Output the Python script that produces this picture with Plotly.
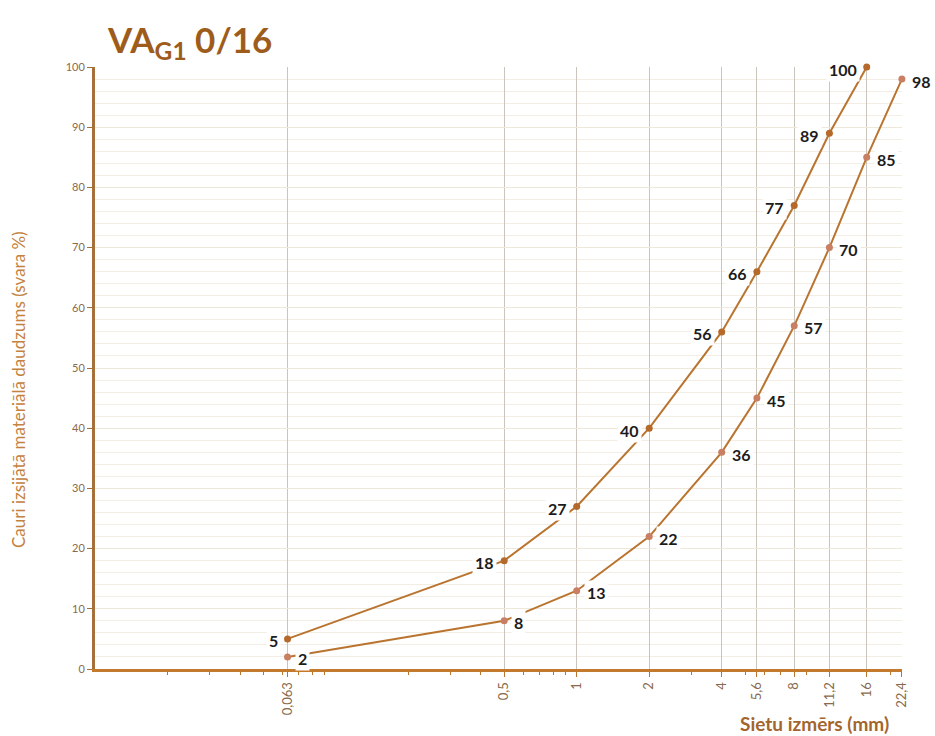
import math
import plotly.graph_objects as go

# Sieve sizes (mm) and passing percentages for the two grading limits
sieve_upper = [0.063, 0.5, 1, 2, 4, 5.6, 8, 11.2, 16]
pass_upper = [5, 18, 27, 40, 56, 66, 77, 89, 100]

sieve_lower = [0.063, 0.5, 1, 2, 4, 5.6, 8, 11.2, 16, 22.4]
pass_lower = [2, 8, 13, 22, 36, 45, 57, 70, 85, 98]

tick_vals = [0.063, 0.5, 1, 2, 4, 5.6, 8, 11.2, 16, 22.4]
tick_text = ["0,063", "0,5", "1", "2", "4", "5,6", "8", "11,2", "16", "22,4"]

LINE = "#B9742F"
FONT = "Lato"

fig = go.Figure()
fig.add_trace(go.Scatter(
    x=sieve_upper, y=pass_upper, mode="lines+markers",
    line=dict(color=LINE, width=2),
    marker=dict(color="#B5692A", size=7), cliponaxis=False,
    showlegend=False, hoverinfo="skip"))
fig.add_trace(go.Scatter(
    x=sieve_lower, y=pass_lower, mode="lines+markers",
    line=dict(color=LINE, width=2),
    marker=dict(color="#C97F63", size=7), cliponaxis=False,
    showlegend=False, hoverinfo="skip"))

label_font = dict(family=FONT, size=16, color="#1c1c1c", weight="bold")
annotations = []
# annotation x on a log axis is given in log10 units
for xv, yv in zip(sieve_upper, pass_upper):
    annotations.append(dict(
        x=math.log10(xv), y=yv, xref="x", yref="y", text=str(yv),
        showarrow=False, xanchor="right", xshift=-7, yshift=-2,
        bgcolor="white", borderpad=2, font=label_font))
for xv, yv in zip(sieve_lower, pass_lower):
    annotations.append(dict(
        x=math.log10(xv), y=yv, xref="x", yref="y", text=str(yv),
        showarrow=False, xanchor="left", xshift=7, yshift=-2,
        bgcolor="white", borderpad=2, font=label_font))

annotations.append(dict(
    x=(105 - 95) / 807, y=(669 - 42) / 602, xref="paper", yref="paper",
    text="VA<sub>G1</sub> 0/16",
    showarrow=False, xanchor="left", yanchor="middle",
    font=dict(family=FONT, size=35, color="#9E5C1C", weight="bold")))
annotations.append(dict(
    x=(814 - 95) / 807, y=(669 - 723) / 602, xref="paper", yref="paper",
    text="Sietu izmērs (mm)",
    showarrow=False, xanchor="center", yanchor="middle",
    font=dict(family=FONT, size=19, color="#A3652C", weight="bold")))
annotations.append(dict(
    x=(18 - 95) / 807, y=(669 - 390) / 602, xref="paper", yref="paper",
    text="Cauri izsijātā materiālā daudzums (svara %)",
    showarrow=False, textangle=-90, xanchor="center", yanchor="middle",
    font=dict(family=FONT, size=17, color="#C4823F")))

minor_vals = [m * 10 ** e for e in (-2, -1, 0, 1) for m in range(2, 10)
              if m * 10 ** e < 22.4]

fig.update_layout(
    width=935, height=736,
    margin=dict(l=95, r=33, t=67, b=67),
    paper_bgcolor="white", plot_bgcolor="white",
    annotations=annotations,
    xaxis=dict(
        type="log", range=[-2, math.log10(22.4) + 0.0004],
        tickmode="array", tickvals=tick_vals, ticktext=tick_text,
        tickangle=-90, ticks="outside", ticklen=5, tickcolor="#B9742F",
        tickfont=dict(family=FONT, size=13, color="#8A6A4C"),
        showgrid=True, gridcolor="#C9C4BC", gridwidth=1,
        showline=True, linecolor="#C47A2C", linewidth=3,
        zeroline=False,
        minor=dict(tickmode="array", tickvals=minor_vals, ticks="outside",
                   ticklen=3, tickcolor="#B9742F", showgrid=False),
    ),
    yaxis=dict(
        range=[0, 100], dtick=10,
        ticks="outside", ticklen=5, tickcolor="#A6703A",
        tickfont=dict(family=FONT, size=11, color="#8A6A4C"),
        showgrid=True, gridcolor="#EFE7DA", gridwidth=1,
        showline=True, linecolor="#A6703A", linewidth=3,
        zeroline=False,
        minor=dict(dtick=2, showgrid=True, gridcolor="#F3EDE3", gridwidth=1),
    ),
)

fig.write_html("out.html")
